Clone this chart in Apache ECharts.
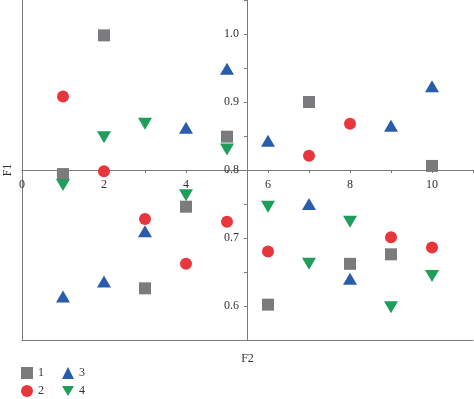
<!DOCTYPE html>
<html>
<head>
<meta charset="utf-8">
<script src="https://cdn.jsdelivr.net/npm/echarts@6/dist/echarts.min.js"></script>
<style>html,body{margin:0;padding:0;background:#fff}#c{width:474px;height:399px}</style>
</head>
<body>
<div id="c"></div>
<script>
var xValues = [1, 2, 3, 4, 5, 6, 7, 8, 9, 10];
var s1 = [0.794, 0.998, 0.626, 0.746, 0.849, 0.602, 0.900, 0.662, 0.676, 0.806];
var s2 = [0.908, 0.798, 0.728, 0.662, 0.724, 0.680, 0.821, 0.868, 0.701, 0.686];
var s3 = [0.614, 0.636, 0.710, 0.862, 0.949, 0.843, 0.750, 0.640, 0.865, 0.923];
var s4 = [0.778, 0.848, 0.868, 0.763, 0.830, 0.746, 0.662, 0.724, 0.598, 0.644];
var seriesNames = ['1', '2', '3', '4'];
var xTicks = [0, 2, 4, 6, 8, 10];
var yTicks = [0.6, 0.7, 0.8, 0.9, 1.0];

function pairs(arr) { return arr.map(function (v, i) { return [xValues[i], v]; }); }

var font = 'Liberation Serif';
var lineColor = '#7a7a7a';
var textColor = '#333';
var downTri = 'path://M0,0 L2,0 L1,1.7 Z';

var chart = echarts.init(document.getElementById('c'), null, {renderer: 'canvas'});
chart.setOption({
  animation: false,
  grid: {left: 22, right: 1, top: 0, bottom: 59, containLabel: false, outerBoundsMode: 'none'},
  xAxis: [
    {type: 'value', min: 0, max: 11, position: 'bottom',
     axisLine: {show: true, onZero: false, lineStyle: {color: lineColor, width: 1}},
     axisTick: {show: false}, axisLabel: {show: false}, splitLine: {show: false},
     name: 'F2', nameLocation: 'middle', nameGap: 13,
     nameTextStyle: {fontFamily: font, fontSize: 12, color: textColor}},
    {type: 'value', min: 0, max: 11, interval: 1, position: 'bottom', offset: -170,
     axisLine: {show: true, onZero: false, lineStyle: {color: lineColor, width: 1}},
     axisTick: {show: true, length: 3, lineStyle: {color: lineColor}},
     axisLabel: {margin: 9, fontFamily: font, fontSize: 12, color: textColor,
       formatter: function (v) { return xTicks.indexOf(v) >= 0 ? String(v) : ''; }},
     splitLine: {show: false}}
  ],
  yAxis: [
    {type: 'value', min: 0.55, max: 1.05, position: 'left',
     axisLine: {show: true, onZero: false, lineStyle: {color: lineColor, width: 1}},
     axisTick: {show: false}, axisLabel: {show: false}, splitLine: {show: false},
     name: 'F1', nameLocation: 'middle', nameGap: 8,
     nameTextStyle: {fontFamily: font, fontSize: 12, color: textColor}},
    {type: 'value', min: 0.55, max: 1.05, interval: 0.05, position: 'left', offset: -225,
     axisLine: {show: true, onZero: false, lineStyle: {color: lineColor, width: 1}},
     axisTick: {show: true, length: 3, lineStyle: {color: lineColor}},
     axisLabel: {margin: 8, fontFamily: font, fontSize: 12, color: textColor,
       formatter: function (v) {
         var r = Math.round(v * 10) / 10;
         return (Math.abs(r - v) < 1e-6 && yTicks.indexOf(r) >= 0) ? r.toFixed(1) : '';
       }},
     splitLine: {show: false}}
  ],
  legend: [
    {data: ['1', '2'], orient: 'vertical', left: 21, top: 367, padding: 0, itemWidth: 12, itemHeight: 12, itemGap: 6,
     textStyle: {fontFamily: font, fontSize: 12, color: textColor}},
    {data: ['3', '4'], orient: 'vertical', left: 62, top: 367, padding: 0, itemWidth: 12, itemHeight: 12, itemGap: 6,
     textStyle: {fontFamily: font, fontSize: 12, color: textColor}}
  ],
  series: [
    {name: seriesNames[0], type: 'scatter', xAxisIndex: 0, yAxisIndex: 0, symbol: 'rect', symbolSize: 12,
     itemStyle: {color: '#7b7b7d', opacity: 1}, data: pairs(s1)},
    {name: seriesNames[1], type: 'scatter', xAxisIndex: 0, yAxisIndex: 0, symbol: 'circle', symbolSize: 12,
     itemStyle: {color: '#e8363c', opacity: 1}, data: pairs(s2)},
    {name: seriesNames[2], type: 'scatter', xAxisIndex: 0, yAxisIndex: 0, symbol: 'triangle', symbolSize: [14, 12],
     itemStyle: {color: '#2a5cac', opacity: 1}, data: pairs(s3)},
    {name: seriesNames[3], type: 'scatter', xAxisIndex: 0, yAxisIndex: 0, symbol: downTri, symbolSize: [14, 12],
     itemStyle: {color: '#1e9d5b', opacity: 1}, data: pairs(s4)}
  ]
});
</script>
</body>
</html>
